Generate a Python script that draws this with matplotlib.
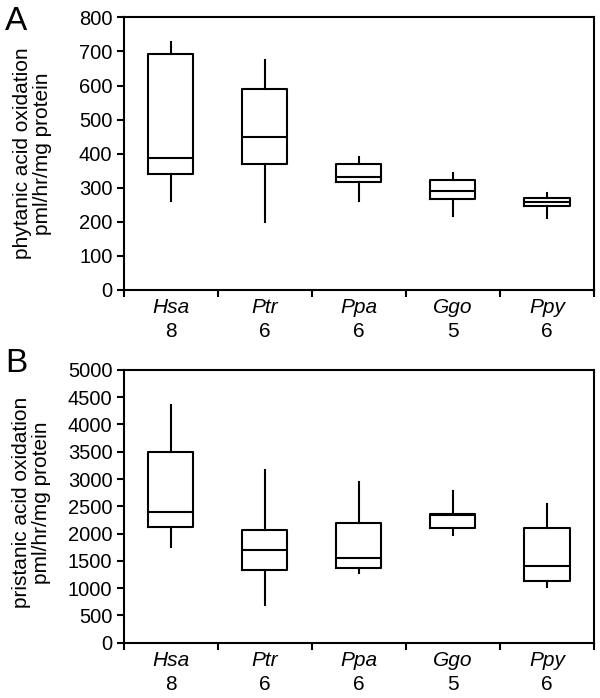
import matplotlib
matplotlib.use("Agg")
import matplotlib.pyplot as plt
import matplotlib.transforms as mtransforms

plt.rcParams['font.family'] = ['Liberation Sans', 'DejaVu Sans']

species = ["Hsa", "Ptr", "Ppa", "Ggo", "Ppy"]
n_counts = ["8", "6", "6", "5", "6"]

# Panel A: phytanic acid oxidation (whislo, q1, med, q3, whishi)
phy_low = [261, 199, 261, 216, 212]
phy_q1 = [340, 369, 316, 267, 245]
phy_med = [387, 449, 330, 290, 257]
phy_q3 = [692, 590, 370, 321, 269]
phy_high = [727, 675, 391, 342, 283]

# Panel B: pristanic acid oxidation
pri_low = [1760, 691, 1272, 1969, 1016]
pri_q1 = [2121, 1333, 1375, 2103, 1126]
pri_med = [2396, 1700, 1559, 2336, 1412]
pri_q3 = [3502, 2061, 2195, 2360, 2103]
pri_high = [4358, 3166, 2952, 2787, 2538]

fig = plt.figure(figsize=(6.0, 6.98), dpi=100)
axA = fig.add_axes([0.206, 0.585, 0.784, 0.390])
axB = fig.add_axes([0.206, 0.0792, 0.784, 0.3908])

def draw(ax, lo, q1, med, q3, hi, ymax, ystep, ylabel, labx, laby):
    stats = []
    for i in range(len(species)):
        stats.append(dict(whislo=lo[i], q1=q1[i], med=med[i], q3=q3[i], whishi=hi[i], label=species[i]))
    lw = 1.5
    ax.bxp(stats, positions=range(1, len(species) + 1), widths=0.48, showcaps=False,
           showfliers=False,
           boxprops=dict(color='black', linewidth=lw),
           whiskerprops=dict(color='black', linewidth=lw),
           medianprops=dict(color='black', linewidth=lw))
    ax.set_xlim(0.5, len(species) + 0.5)
    ax.set_ylim(0, ymax)
    ax.set_yticks(range(0, ymax + 1, ystep))
    ax.set_xticks([i + 0.5 for i in range(len(species) + 1)])
    ax.set_xticklabels([])
    ax.set_xticks(range(1, len(species) + 1), minor=True)
    ax.set_xticklabels(species, minor=True, style='italic', fontsize=15)
    ax.tick_params(axis='x', which='minor', length=0, pad=6)
    ax.tick_params(axis='x', which='major', length=5, width=1.5, direction='out')
    ax.tick_params(axis='y', length=5, width=1.5, direction='out', labelsize=14.5, pad=3)
    for s in ax.spines.values():
        s.set_linewidth(1.5)
    trans = mtransforms.blended_transform_factory(ax.transData, ax.transAxes)
    for i, n in enumerate(n_counts):
        ax.text(i + 1, -0.154, n, transform=trans, ha='center', va='center', fontsize=15)
    ax.set_ylabel(ylabel, fontsize=15, linespacing=1.05)
    ax.yaxis.set_label_coords(labx, laby)

draw(axA, phy_low, phy_q1, phy_med, phy_q3, phy_high, 800, 100,
     "phytanic acid oxidation\npml/hr/mg protein", -0.152, 0.5)
draw(axB, pri_low, pri_q1, pri_med, pri_q3, pri_high, 5000, 500,
     "pristanic acid oxidation\npml/hr/mg protein", -0.154, 0.514)

fig.text(0.008, 0.992, "A", fontsize=24, ha='left', va='top')
fig.text(0.008, 0.502, "B", fontsize=24, ha='left', va='top')

fig.savefig("out.png", dpi=100)
